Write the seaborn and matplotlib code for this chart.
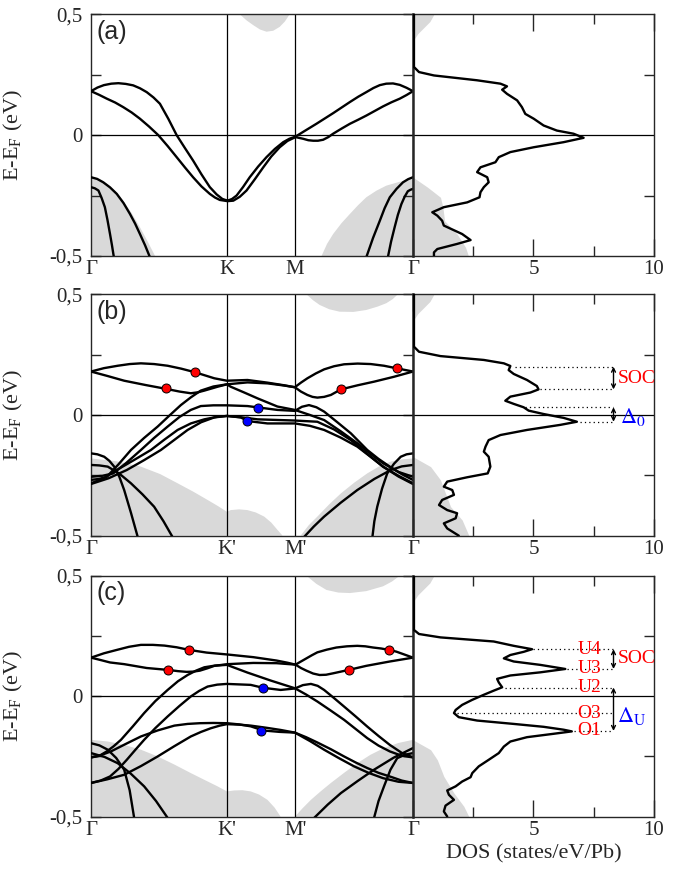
import numpy as np
import pandas as pd
import seaborn as sns
import matplotlib.pyplot as plt

# positions of high-symmetry points along the path (fraction of path length)
K_PT = 0.4226
M_PT = 0.634

# ---------------- panel (a) ----------------
bands_a = [
    ([0, 0.020, 0.040, 0.063, 0.085, 0.108, 0.131, 0.152, 0.173, 0.194, 0.214, 0.240, 0.266, 0.292, 0.317,
      0.343, 0.369, 0.390, 0.408, 0.424, 0.438, 0.452, 0.472, 0.493, 0.519, 0.545, 0.571, 0.597, 0.616, 0.635,
      0.668, 0.700, 0.726, 0.752, 0.778, 0.804, 0.830, 0.855, 0.877, 0.897, 0.917, 0.938, 0.959, 0.980, 1.0],
     [0.182, 0.197, 0.207, 0.213, 0.215, 0.212, 0.206, 0.194, 0.178, 0.156, 0.130, 0.068, 0.0, -0.054, -0.105,
      -0.162, -0.215, -0.245, -0.264, -0.271, -0.264, -0.250, -0.215, -0.174, -0.130, -0.091, -0.057, -0.029,
      -0.015, -0.006, 0.021, 0.047, 0.069, 0.091, 0.114, 0.137, 0.159, 0.178, 0.195, 0.207, 0.213, 0.214,
      0.208, 0.196, 0.182]),
    ([0, 0.025, 0.049, 0.075, 0.100, 0.126, 0.152, 0.180, 0.209, 0.238, 0.266, 0.292, 0.317, 0.343, 0.369,
      0.385, 0.400, 0.424, 0.442, 0.462, 0.483, 0.509, 0.535, 0.560, 0.586, 0.610, 0.635, 0.659, 0.675, 0.690,
      0.705, 0.721, 0.737, 0.752, 0.778, 0.804, 0.830, 0.855, 0.881, 0.907, 0.933, 0.959, 0.980, 1.0],
     [0.182, 0.167, 0.151, 0.135, 0.116, 0.094, 0.068, 0.036, 0.0, -0.045, -0.091, -0.134, -0.174, -0.212,
      -0.243, -0.258, -0.268, -0.273, -0.271, -0.255, -0.229, -0.182, -0.133, -0.088, -0.050, -0.024, -0.008,
      -0.015, -0.021, -0.023, -0.023, -0.019, -0.008, 0.006, 0.027, 0.047, 0.064, 0.081, 0.100, 0.119, 0.136,
      0.151, 0.166, 0.182]),
    ([0, 0.019, 0.038, 0.059, 0.080, 0.101, 0.121, 0.137, 0.152, 0.168, 0.183],
     [-0.174, -0.181, -0.195, -0.216, -0.243, -0.281, -0.326, -0.366, -0.409, -0.456, -0.505]),
    ([0, 0.012, 0.023, 0.033, 0.043, 0.051, 0.059, 0.065, 0.071],
     [-0.215, -0.220, -0.229, -0.260, -0.298, -0.350, -0.409, -0.455, -0.505]),
    ([1.0, 0.985, 0.969, 0.949, 0.928, 0.912, 0.897, 0.876, 0.855],
     [-0.174, -0.182, -0.195, -0.222, -0.257, -0.302, -0.354, -0.425, -0.505]),
    ([1.0, 0.992, 0.984, 0.974, 0.964, 0.953, 0.943, 0.932, 0.922],
     [-0.222, -0.226, -0.232, -0.255, -0.285, -0.330, -0.381, -0.440, -0.505]),
]
gray_left_a = ([0, 0.025, 0.049, 0.075, 0.100, 0.126, 0.152, 0.176, 0.199],
               [-0.174, -0.185, -0.202, -0.232, -0.271, -0.322, -0.381, -0.440, -0.5])
gray_top_a = ([0.462, 0.483, 0.504, 0.525, 0.545, 0.566, 0.586, 0.602, 0.617],
              [0.5, 0.475, 0.455, 0.437, 0.428, 0.432, 0.448, 0.470, 0.5])
gray_right_a = ([0.716, 0.733, 0.752, 0.778, 0.804, 0.830, 0.855, 0.886, 0.917, 0.958, 1.0],
                [-0.5, -0.450, -0.409, -0.364, -0.326, -0.289, -0.257, -0.230, -0.209, -0.193, -0.181])

dos_e_a = [0.499, 0.282, 0.261, 0.247, 0.227, 0.213, 0.202, 0.188, 0.171, 0.144, 0.116, 0.088, 0.068, 0.040,
           0.019, 0.006, -0.011, -0.029, -0.050, -0.070, -0.091, -0.112, -0.133, -0.153, -0.174, -0.195,
           -0.215, -0.236, -0.257, -0.278, -0.298, -0.319, -0.333, -0.354, -0.374, -0.409, -0.434, -0.450,
           -0.471, -0.485, -0.501]
dos_n_a = [0.04, 0.04, 0.25, 0.87, 2.66, 3.63, 3.90, 3.70, 3.90, 4.32, 4.52, 4.66, 5.01, 5.42,
           5.97, 6.66, 7.08, 6.25, 5.01, 4.04, 3.56, 3.42, 2.80, 2.66, 3.08, 3.14,
           2.94, 2.80, 2.76, 2.25, 1.28, 0.80, 1.01, 1.21, 1.28, 2.04, 2.39, 1.83,
           1.01, 0.87, 0.87]
dos_gray_a = ([-0.174, -0.215, -0.257, -0.298, -0.354, -0.409, -0.464, -0.5],
              [0, 0.6, 1.14, 1.24, 1.31, 1.83, 2.18, 2.3])

# ---------------- panel (b) ----------------
bands_b = [
    ([0, 0.040, 0.083, 0.120, 0.155, 0.196, 0.238, 0.280, 0.323, 0.383, 0.422, 0.486, 0.548, 0.600, 0.633,
      0.652, 0.672, 0.698, 0.724, 0.755, 0.786, 0.828, 0.869, 0.910, 0.951, 1.0],
     [0.180, 0.194, 0.204, 0.211, 0.214, 0.211, 0.204, 0.192, 0.177, 0.152, 0.142, 0.145, 0.134, 0.123, 0.115,
      0.134, 0.152, 0.172, 0.189, 0.202, 0.210, 0.213, 0.211, 0.204, 0.193, 0.180]),
    ([0, 0.050, 0.103, 0.170, 0.234, 0.275, 0.310, 0.332, 0.352, 0.393, 0.422, 0.486, 0.548, 0.600, 0.633,
      0.652, 0.672, 0.688, 0.703, 0.724, 0.745, 0.776, 0.828, 0.879, 0.940, 1.0],
     [0.180, 0.162, 0.142, 0.124, 0.108, 0.097, 0.090, 0.094, 0.101, 0.117, 0.127, 0.135, 0.131, 0.122, 0.115,
      0.097, 0.083, 0.075, 0.072, 0.075, 0.083, 0.106, 0.123, 0.138, 0.158, 0.180]),
    ([0, 0.025, 0.049, 0.085, 0.124, 0.165, 0.207, 0.243, 0.279, 0.310, 0.341, 0.380, 0.422, 0.434, 0.476,
      0.517, 0.579, 0.633, 0.680, 0.724, 0.776, 0.827, 0.867, 0.907, 0.955, 1.0],
     [-0.269, -0.265, -0.256, -0.205, -0.145, -0.095, -0.048, -0.003, 0.041, 0.073, 0.101, 0.118, 0.127, 0.117,
      0.093, 0.069, 0.035, 0.021, 0.000, -0.021, -0.068, -0.117, -0.160, -0.200, -0.236, -0.256]),
    ([0, 0.035, 0.069, 0.110, 0.155, 0.196, 0.238, 0.275, 0.310, 0.341, 0.380, 0.422, 0.486, 0.579, 0.633,
      0.655, 0.677, 0.700, 0.724, 0.765, 0.807, 0.858, 0.893, 0.928, 0.965, 1.0],
     [-0.256, -0.252, -0.242, -0.198, -0.145, -0.095, -0.048, -0.008, 0.021, 0.037, 0.040, 0.040, 0.037, 0.021,
      0.017, 0.034, 0.041, 0.032, 0.014, -0.030, -0.076, -0.145, -0.182, -0.214, -0.245, -0.269]),
    ([0, 0.040, 0.080, 0.133, 0.186, 0.228, 0.269, 0.310, 0.352, 0.390, 0.422, 0.465, 0.486, 0.548, 0.633,
      0.680, 0.724, 0.776, 0.827, 0.867, 0.907, 0.955, 1.0],
     [-0.283, -0.262, -0.228, -0.187, -0.145, -0.102, -0.062, -0.035, -0.018, -0.008, -0.004, -0.010, -0.025,
      -0.035, -0.035, -0.045, -0.062, -0.094, -0.131, -0.172, -0.214, -0.252, -0.283]),
    ([0, 0.055, 0.111, 0.165, 0.217, 0.260, 0.300, 0.342, 0.383, 0.422, 0.470, 0.517, 0.633, 0.703, 0.755,
      0.807, 0.857, 0.907, 0.955, 1.0],
     [-0.286, -0.262, -0.228, -0.187, -0.145, -0.102, -0.062, -0.030, -0.010, -0.004, -0.010, -0.018, -0.023,
      -0.028, -0.060, -0.104, -0.160, -0.214, -0.255, -0.286]),
    ([0, 0.020, 0.041, 0.057, 0.072, 0.088, 0.103, 0.124, 0.145],
     [-0.159, -0.163, -0.173, -0.190, -0.214, -0.256, -0.311, -0.405, -0.505]),
    ([0, 0.026, 0.052, 0.088, 0.124, 0.160, 0.196, 0.225, 0.253],
     [-0.207, -0.209, -0.214, -0.243, -0.283, -0.329, -0.380, -0.440, -0.505]),
    ([1.0, 0.980, 0.962, 0.941, 0.920, 0.904, 0.889, 0.880, 0.874],
     [-0.159, -0.163, -0.173, -0.202, -0.242, -0.305, -0.380, -0.440, -0.505]),
    ([1.0, 0.965, 0.931, 0.880, 0.827, 0.775, 0.724, 0.692, 0.662],
     [-0.207, -0.213, -0.228, -0.265, -0.311, -0.364, -0.421, -0.462, -0.505]),
]
gray_left_b = ([0, 0.080, 0.155, 0.215, 0.269, 0.318, 0.362, 0.395, 0.422, 0.434, 0.460, 0.486, 0.512, 0.538,
                0.560, 0.579, 0.595],
               [-0.180, -0.192, -0.214, -0.245, -0.283, -0.318, -0.352, -0.378, -0.401, -0.394, -0.391, -0.394,
                -0.404, -0.421, -0.446, -0.476, -0.5])
gray_top_b = ([0.669, 0.690, 0.710, 0.740, 0.772, 0.815, 0.855, 0.890, 0.917, 0.937, 0.953],
              [0.5, 0.475, 0.456, 0.438, 0.428, 0.427, 0.435, 0.449, 0.463, 0.480, 0.5])
gray_right_b = ([0.651, 0.676, 0.703, 0.740, 0.776, 0.817, 0.858, 0.895, 0.931, 0.965, 1.0],
                [-0.5, -0.457, -0.421, -0.370, -0.325, -0.281, -0.242, -0.213, -0.193, -0.184, -0.180])
red_b = ([0.234, 0.323, 0.776, 0.951], [0.110, 0.177, 0.106, 0.193])
blue_b = ([0.520, 0.486], [0.030, -0.026])

dos_e_b = [0.500, 0.283, 0.262, 0.244, 0.228, 0.214, 0.203, 0.186, 0.170, 0.145, 0.120, 0.106, 0.093, 0.076,
           0.059, 0.046, 0.032, 0.018, 0.004, -0.012, -0.028, -0.041, -0.062, -0.083, -0.104, -0.131,
           -0.152, -0.173, -0.214, -0.242, -0.258, -0.276, -0.297, -0.311, -0.331, -0.352, -0.373,
           -0.394, -0.407, -0.428, -0.449, -0.470, -0.500]
dos_n_b = [0.04, 0.04, 0.25, 1.14, 2.94, 3.77, 4.04, 3.97, 4.18, 4.73, 5.14, 5.21, 4.87, 4.04,
           3.83, 4.18, 4.59, 4.80, 5.42, 6.25, 6.80, 6.11, 4.73, 3.63, 3.14, 3.01,
           2.94, 3.14, 3.21, 3.10, 2.25, 1.42, 1.28, 1.63, 1.70, 1.21, 1.08,
           1.42, 1.83, 1.77, 1.28, 1.42, 1.90]
dos_gray_b = ([-0.173, -0.214, -0.269, -0.325, -0.380, -0.435, -0.5], [0, 0.73, 1.14, 1.35, 1.56, 2.04, 2.32])
levels_b = [0.200, 0.106, 0.032, -0.028]
level_start_b = [4.24, 5.28, 4.66, 6.94]

# ---------------- panel (c) ----------------
bands_c = [
    ([0, 0.040, 0.080, 0.118, 0.155, 0.192, 0.228, 0.266, 0.305, 0.359, 0.424, 0.504, 0.576, 0.610, 0.635,
      0.652, 0.669, 0.686, 0.703, 0.732, 0.762, 0.795, 0.827, 0.852, 0.876, 0.901, 0.926, 0.948, 0.969, 1.0],
     [0.160, 0.178, 0.192, 0.205, 0.213, 0.213, 0.210, 0.203, 0.192, 0.181, 0.173, 0.162, 0.148, 0.139, 0.131,
      0.144, 0.157, 0.170, 0.182, 0.193, 0.202, 0.207, 0.209, 0.207, 0.202, 0.198, 0.192, 0.185, 0.175, 0.160]),
    ([0, 0.030, 0.059, 0.103, 0.173, 0.240, 0.270, 0.297, 0.318, 0.338, 0.362, 0.383, 0.424, 0.504, 0.576,
      0.635, 0.652, 0.669, 0.690, 0.710, 0.730, 0.752, 0.800, 0.855, 0.928, 1.0],
     [0.160, 0.150, 0.140, 0.133, 0.117, 0.109, 0.104, 0.101, 0.102, 0.106, 0.116, 0.126, 0.133, 0.138, 0.137,
      0.131, 0.117, 0.106, 0.094, 0.088, 0.089, 0.095, 0.109, 0.126, 0.144, 0.160]),
    ([0, 0.025, 0.049, 0.070, 0.093, 0.130, 0.165, 0.200, 0.238, 0.270, 0.300, 0.326, 0.352, 0.385, 0.422,
      0.486, 0.558, 0.633, 0.668, 0.703, 0.745, 0.786, 0.822, 0.858, 0.893, 0.928, 0.965, 1.0],
     [-0.254, -0.248, -0.229, -0.208, -0.181, -0.125, -0.070, -0.020, 0.026, 0.062, 0.088, 0.106, 0.120, 0.127,
      0.130, 0.098, 0.065, 0.033, 0.007, -0.022, -0.060, -0.098, -0.136, -0.174, -0.205, -0.229, -0.247, -0.254]),
    ([0, 0.030, 0.059, 0.085, 0.111, 0.138, 0.165, 0.200, 0.238, 0.275, 0.310, 0.336, 0.362, 0.392, 0.422,
      0.496, 0.534, 0.589, 0.633, 0.658, 0.683, 0.704, 0.724, 0.755, 0.786, 0.822, 0.858, 0.893, 0.928,
      0.965, 1.0],
     [-0.360, -0.350, -0.333, -0.302, -0.264, -0.222, -0.181, -0.132, -0.084, -0.040, -0.001, 0.022, 0.040,
      0.048, 0.051, 0.047, 0.035, 0.026, 0.032, 0.046, 0.051, 0.043, 0.026, -0.008, -0.043, -0.084, -0.126,
      -0.165, -0.202, -0.235, -0.254]),
    ([0, 0.030, 0.062, 0.108, 0.155, 0.207, 0.259, 0.300, 0.338, 0.380, 0.422, 0.460, 0.496, 0.534, 0.585,
      0.633, 0.668, 0.703, 0.745, 0.786, 0.822, 0.858, 0.893, 0.928, 0.965, 1.0],
     [-0.254, -0.245, -0.229, -0.198, -0.167, -0.142, -0.122, -0.115, -0.112, -0.111, -0.112, -0.117, -0.125,
      -0.142, -0.148, -0.151, -0.170, -0.192, -0.220, -0.250, -0.275, -0.298, -0.318, -0.333, -0.350, -0.360]),
    ([0, 0.050, 0.103, 0.155, 0.207, 0.258, 0.310, 0.342, 0.372, 0.400, 0.422, 0.460, 0.496, 0.545, 0.589,
      0.633, 0.680, 0.724, 0.770, 0.817, 0.862, 0.907, 0.955, 1.0],
     [-0.360, -0.345, -0.326, -0.290, -0.250, -0.208, -0.167, -0.148, -0.133, -0.122, -0.116, -0.118, -0.122,
      -0.131, -0.140, -0.151, -0.186, -0.222, -0.257, -0.291, -0.318, -0.340, -0.355, -0.360]),
    ([0, 0.026, 0.052, 0.078, 0.103, 0.120, 0.134],
     [-0.195, -0.204, -0.222, -0.256, -0.305, -0.390, -0.505]),
    ([0, 0.042, 0.083, 0.124, 0.165, 0.202, 0.238],
     [-0.236, -0.252, -0.278, -0.322, -0.374, -0.435, -0.505]),
    ([1.0, 0.975, 0.951, 0.930, 0.910, 0.893, 0.879],
     [-0.236, -0.243, -0.257, -0.305, -0.374, -0.435, -0.505]),
    ([1.0, 0.940, 0.879, 0.828, 0.776, 0.735, 0.693],
     [-0.215, -0.255, -0.305, -0.352, -0.402, -0.450, -0.505]),
]
gray_left_c = ([0, 0.052, 0.103, 0.155, 0.207, 0.258, 0.310, 0.352, 0.393, 0.422, 0.445, 0.470, 0.496, 0.522,
                0.548, 0.570, 0.589],
               [-0.181, -0.188, -0.202, -0.222, -0.250, -0.283, -0.319, -0.347, -0.374, -0.395, -0.391, -0.390,
                -0.395, -0.408, -0.430, -0.462, -0.5])
gray_top_c = ([0.669, 0.700, 0.731, 0.768, 0.804, 0.855, 0.907, 0.935, 0.959],
              [0.5, 0.466, 0.441, 0.430, 0.428, 0.436, 0.456, 0.476, 0.5])
gray_right_c = ([0.633, 0.657, 0.683, 0.714, 0.745, 0.786, 0.827, 0.868, 0.910, 0.955, 1.0],
                [-0.5, -0.465, -0.430, -0.394, -0.360, -0.318, -0.278, -0.243, -0.215, -0.194, -0.181])
red_c = ([0.240, 0.305, 0.800, 0.926], [0.109, 0.192, 0.109, 0.192])
blue_c = ([0.535, 0.529], [0.035, -0.144])

dos_e_c = [0.500, 0.275, 0.258, 0.244, 0.227, 0.209, 0.195, 0.184, 0.171, 0.157, 0.144, 0.130, 0.113, 0.099,
           0.086, 0.072, 0.057, 0.037, 0.023, 0.006, -0.015, -0.036, -0.057, -0.070, -0.087, -0.101,
           -0.115, -0.127, -0.139, -0.146, -0.156, -0.170, -0.188, -0.209, -0.236, -0.264, -0.291,
           -0.319, -0.336, -0.354, -0.374, -0.391, -0.409, -0.430, -0.454, -0.478, -0.499]
dos_n_c = [0.04, 0.04, 0.25, 1.14, 3.35, 4.18, 4.94, 4.59, 4.04, 3.77, 4.18, 5.28, 6.32, 5.28,
           4.04, 3.49, 3.56, 3.70, 3.35, 2.94, 2.46, 2.04, 1.77, 1.70, 1.90, 2.66,
           4.18, 5.42, 6.25, 6.59, 5.83, 4.73, 4.04, 3.77, 3.56, 3.14, 2.73,
           2.46, 2.39, 2.04, 1.77, 1.42, 1.49, 1.70, 1.35, 1.28, 1.42]
dos_gray_c = ([-0.181, -0.222, -0.264, -0.333, -0.402, -0.457, -0.5], [0, 0.73, 1.01, 1.28, 1.70, 2.11, 2.32])
levels_c = [0.195, 0.113, 0.036, -0.070, -0.144]
level_start_c = [5.0, 6.39, 3.83, 1.83, 6.66]
level_names_c = ["U4", "U3", "U2", "O3", "O1"]

# small gray patch at the top of every DOS panel
dos_gray_top = ([0.5, 0.47, 0.44, 0.42, 0.39], [0.87, 0.70, 0.40, 0.2, 0.0])

GRAY = "#d9d9d9"

sns.set_style("ticks")
plt.rcParams["font.family"] = ["Liberation Serif", "DejaVu Serif"]
plt.rcParams["mathtext.fontset"] = "stix"
plt.rcParams["lines.solid_joinstyle"] = "round"
plt.rcParams["lines.solid_capstyle"] = "round"

fig = plt.figure(figsize=(6.89, 8.72), dpi=100)

BAND_L, BAND_W = 0.1321, 0.4673
DOS_L, DOS_W = 0.5994, 0.3498
rows = [(0.7064, 0.2772), (0.3857, 0.2768), (0.0634, 0.2764)]

panels = [
    dict(tag="(a)", bands=bands_a, gl=gray_left_a, gt=gray_top_a, gr=gray_right_a,
         de=dos_e_a, dn=dos_n_a, dg=dos_gray_a, kl=["Γ", "K", "M", "Γ"]),
    dict(tag="(b)", bands=bands_b, gl=gray_left_b, gt=gray_top_b, gr=gray_right_b,
         de=dos_e_b, dn=dos_n_b, dg=dos_gray_b, kl=["Γ", "K'", "M'", "Γ"], red=red_b, blue=blue_b),
    dict(tag="(c)", bands=bands_c, gl=gray_left_c, gt=gray_top_c, gr=gray_right_c,
         de=dos_e_c, dn=dos_n_c, dg=dos_gray_c, kl=["Γ", "K'", "M'", "Γ"], red=red_c, blue=blue_c),
]

for (bottom, height), p in zip(rows, panels):
    axb = fig.add_axes([BAND_L, bottom, BAND_W, height])
    axd = fig.add_axes([DOS_L, bottom, DOS_W, height])

    # shaded projected bulk states
    k, e = p["gl"]
    axb.fill(k + [0], e + [-0.5], color=GRAY, lw=0, zorder=0)
    k, e = p["gt"]
    axb.fill(k, e, color=GRAY, lw=0, zorder=0)
    k, e = p["gr"]
    axb.fill(k + [1.0], e + [-0.5], color=GRAY, lw=0, zorder=0)

    axb.axhline(0, color="black", lw=0.9, zorder=1)
    axb.axvline(K_PT, color="black", lw=0.9, zorder=1)
    axb.axvline(M_PT, color="black", lw=0.9, zorder=1)

    df = pd.concat([pd.DataFrame({"k": k, "E": e, "band": j}) for j, (k, e) in enumerate(p["bands"])])
    sns.lineplot(data=df, x="k", y="E", units="band", estimator=None, sort=False,
                 color="black", linewidth=1.7, ax=axb, legend=False, zorder=3)

    if "red" in p:
        sns.scatterplot(x=p["red"][0], y=p["red"][1], color="#ff0000", edgecolor="black",
                        linewidth=0.7, s=42, ax=axb, zorder=5, legend=False)
        sns.scatterplot(x=p["blue"][0], y=p["blue"][1], color="#0000ff", edgecolor="black",
                        linewidth=0.7, s=42, ax=axb, zorder=5, legend=False)

    axb.set_xlim(0, 1)
    axb.set_ylim(-0.5, 0.5)
    axb.set_xticks([0, K_PT, M_PT, 1.0])
    axb.set_xticklabels(p["kl"], fontsize=15)
    axb.set_yticks([-0.5, -0.25, 0, 0.25, 0.5])
    axb.set_yticklabels(["-0,5", "", "0", "", "0,5"], fontsize=15)
    axb.tick_params(axis="x", length=0, pad=3)
    axb.tick_params(axis="y", direction="in", length=7, width=1, right=True, pad=6)
    axb.set_xlabel("")
    axb.set_ylabel("E-E$_\\mathregular{F}$ (eV)", fontsize=16)
    axb.yaxis.set_label_coords(-0.205, 0.5)
    for s in axb.spines.values():
        s.set_linewidth(1.0)
        s.set_visible(True)
    axb.text(0.018, 0.978, p["tag"], transform=axb.transAxes, ha="left", va="top",
             fontsize=18, family="Liberation Sans")

    # density of states
    e, n = dos_gray_top
    axd.fill_betweenx(e, 0, n, color=GRAY, lw=0, zorder=0)
    e, n = p["dg"]
    axd.fill_betweenx(e, 0, n, color=GRAY, lw=0, zorder=0)
    axd.axhline(0, color="black", lw=0.9, zorder=1)
    sns.lineplot(x=p["dn"], y=p["de"], sort=False, estimator=None, color="black",
                 linewidth=1.7, ax=axd, zorder=3)
    axd.set_xlim(0, 10)
    axd.set_ylim(-0.5, 0.5)
    axd.set_xticks([0, 5, 10])
    axd.set_xticklabels(["", "5", "10"], fontsize=15)
    axd.set_xticks([2.5, 7.5], minor=True)
    axd.set_yticks([-0.25, 0.25])
    axd.set_yticklabels([])
    axd.tick_params(axis="x", which="major", direction="in", length=12, width=1, top=True, pad=3)
    axd.tick_params(axis="x", which="minor", direction="in", length=7, width=1, top=True)
    axd.tick_params(axis="y", direction="in", length=7, width=1, left=False, right=True)
    axd.set_ylabel("")
    axd.set_xlabel("")
    for s in axd.spines.values():
        s.set_linewidth(1.0)
        s.set_visible(True)
    axd.spines["left"].set_linewidth(1.8)

    if p["tag"] == "(b)":
        for lv, x0 in zip(levels_b, level_start_b):
            axd.plot([x0, 8.28], [lv, lv], color="black", lw=0.9, ls=(0, (1, 2.5)), zorder=2)
        for y1, y2 in [(levels_b[0], levels_b[1]), (levels_b[2], levels_b[3])]:
            axd.annotate("", xy=(8.32, y1), xytext=(8.32, y2),
                         arrowprops=dict(arrowstyle="<->", lw=1, color="black",
                                         mutation_scale=7, shrinkA=0, shrinkB=0))
        axd.text(8.5, 0.153, "SOC", color="#ff0000", fontsize=14, va="center", ha="left")
        axd.text(8.6, -0.008, "$\\Delta_0$", color="#0000ff", fontsize=16, va="center", ha="left")

    if p["tag"] == "(c)":
        for lv, x0, name in zip(levels_c, level_start_c, level_names_c):
            axd.plot([x0, 8.28], [lv, lv], color="black", lw=0.9, ls=(0, (1, 2.5)), zorder=2)
            axd.text(7.32, lv, name, color="#ff0000", fontsize=14, va="center", ha="center", zorder=4)
        for y1, y2 in [(levels_c[0], levels_c[1]), (levels_c[2], levels_c[4])]:
            axd.annotate("", xy=(8.32, y1), xytext=(8.32, y2),
                         arrowprops=dict(arrowstyle="<->", lw=1, color="black",
                                         mutation_scale=7, shrinkA=0, shrinkB=0))
        axd.text(8.48, 0.155, "SOC", color="#ff0000", fontsize=14, va="center", ha="left")
        axd.text(8.45, -0.082, "$\\Delta_\\mathregular{U}$", color="#0000ff", fontsize=16,
                 va="center", ha="left")
        axd.set_xlabel("DOS (states/eV/Pb)", fontsize=16, labelpad=3)

fig.savefig("out.png", dpi=100)
